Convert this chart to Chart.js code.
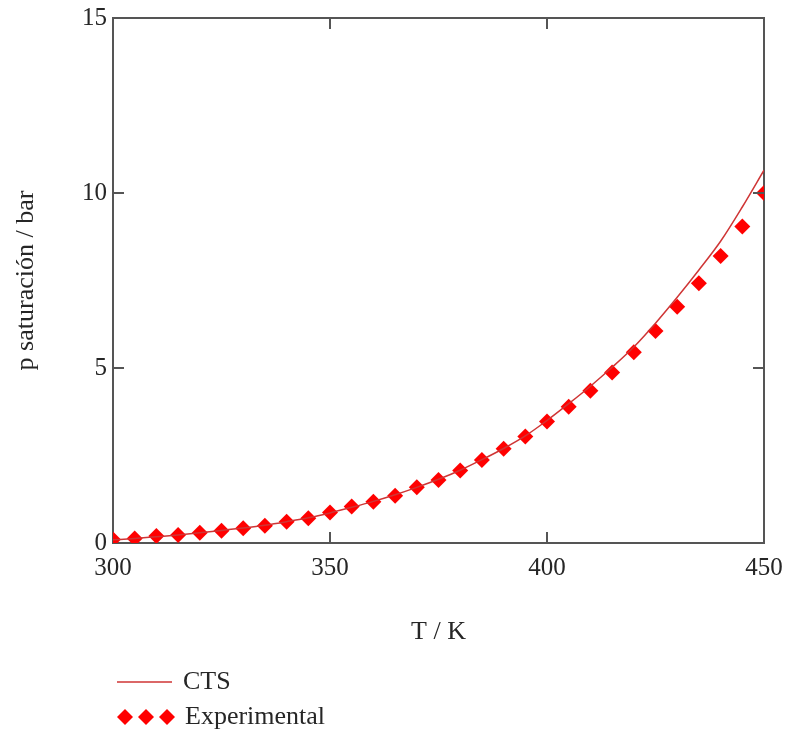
<!DOCTYPE html>
<html>
<head>
<meta charset="utf-8">
<script src="https://cdn.jsdelivr.net/npm/chart.js@4.4.1/dist/chart.umd.min.js"></script>
<style>
  html, body { margin: 0; padding: 0; background: #fff; }
  #wrap { width: 793px; height: 740px; position: relative; }
</style>
</head>
<body>
<div id="wrap"><canvas id="chart"></canvas></div>
<script>
// temperatura (K)
const temps = [300, 305, 310, 315, 320, 325, 330, 335, 340, 345,
               350, 355, 360, 365, 370, 375, 380, 385, 390, 395,
               400, 405, 410, 415, 420, 425, 430, 435, 440, 445, 450];

// puntos experimentales (bar)
const experimental = [0.10, 0.13, 0.20, 0.23, 0.29, 0.35, 0.42, 0.49, 0.61, 0.71,
                      0.87, 1.04, 1.18, 1.35, 1.59, 1.80, 2.07, 2.37, 2.69, 3.04,
                      3.47, 3.89, 4.35, 4.87, 5.45, 6.06, 6.75, 7.42, 8.20, 9.04, 10.0];

// modelo CTS (bar)
const cts = [0.09, 0.13, 0.18, 0.23, 0.29, 0.36, 0.43, 0.51, 0.61, 0.72,
             0.86, 1.02, 1.19, 1.38, 1.59, 1.82, 2.08, 2.38, 2.70, 3.06,
             3.50, 3.98, 4.48, 5.02, 5.60, 6.28, 7.02, 7.80, 8.62, 9.60, 10.65];

const xTicks = [300, 350, 400, 450];
const yTicks = [0, 5, 10, 15];

const serif = "'Liberation Serif', 'DejaVu Serif', serif";
const textColor = '#262626';
const axisColor = '#555';
const lineColor = '#cf3535';
const markerColor = '#ff0000';

const xy = (xs, ys) => xs.map((x, i) => ({ x: x, y: ys[i] }));

// ticks hacia dentro en los cuatro lados
const innerTicks = {
  id: 'innerTicks',
  afterDraw(chart) {
    const ctx = chart.ctx;
    const a = chart.chartArea;
    const xs = chart.scales.x, ys = chart.scales.y;
    const len = 11;
    ctx.save();
    ctx.strokeStyle = axisColor;
    ctx.lineWidth = 2;
    xTicks.slice(1, -1).forEach(v => {
      const px = xs.getPixelForValue(v);
      ctx.beginPath();
      ctx.moveTo(px, a.bottom); ctx.lineTo(px, a.bottom - len);
      ctx.moveTo(px, a.top); ctx.lineTo(px, a.top + len);
      ctx.stroke();
    });
    yTicks.slice(1, -1).forEach(v => {
      const py = ys.getPixelForValue(v);
      ctx.beginPath();
      ctx.moveTo(a.left, py); ctx.lineTo(a.left + len, py);
      ctx.moveTo(a.right, py); ctx.lineTo(a.right - len, py);
      ctx.stroke();
    });
    ctx.restore();
  }
};

// leyenda abajo a la izquierda
const bottomLegend = {
  id: 'bottomLegend',
  afterDraw(chart) {
    const ctx = chart.ctx;
    ctx.save();
    ctx.font = '26px ' + serif;
    ctx.fillStyle = textColor;
    ctx.textBaseline = 'middle';
    ctx.textAlign = 'left';

    ctx.strokeStyle = lineColor;
    ctx.lineWidth = 1.5;
    ctx.beginPath();
    ctx.moveTo(117, 682); ctx.lineTo(172, 682);
    ctx.stroke();
    ctx.fillText('CTS', 183, 682);

    ctx.fillStyle = markerColor;
    [125, 146, 167].forEach(cx => {
      const r = 8, cy = 717;
      ctx.beginPath();
      ctx.moveTo(cx, cy - r); ctx.lineTo(cx + r, cy);
      ctx.lineTo(cx, cy + r); ctx.lineTo(cx - r, cy);
      ctx.closePath();
      ctx.fill();
    });
    ctx.fillStyle = textColor;
    ctx.fillText('Experimental', 185, 717);
    ctx.restore();
  }
};

new Chart(document.getElementById('chart'), {
  type: 'scatter',
  data: {
    datasets: [{
      label: 'CTS',
      data: xy(temps, cts),
      showLine: true,
      borderColor: lineColor,
      borderWidth: 1.5,
      pointRadius: 0,
      cubicInterpolationMode: 'monotone',
      clip: 0,
      order: 0
    }, {
      label: 'Experimental',
      data: xy(temps, experimental),
      showLine: false,
      pointStyle: 'rectRot',
      pointRadius: 8,
      pointBackgroundColor: markerColor,
      pointBorderColor: markerColor,
      pointBorderWidth: 0,
      clip: 0,
      order: 1
    }]
  },
  options: {
    responsive: true,
    maintainAspectRatio: false,
    animation: false,
    layout: { padding: { top: 18, right: 29, left: 0, bottom: 92 } },
    plugins: {
      legend: { display: false },
      tooltip: { enabled: false }
    },
    scales: {
      x: {
        type: 'linear',
        min: 300, max: 450,
        afterBuildTicks: s => { s.ticks = xTicks.map(v => ({ value: v })); },
        grid: { display: false, drawTicks: false },
        border: { display: true, color: axisColor, width: 2 },
        ticks: { padding: 10, color: textColor, font: { family: serif, size: 25 } },
        title: {
          display: true, text: 'T / K', color: textColor,
          font: { family: serif, size: 26 }, padding: { top: 0, bottom: 0 }
        },
        afterFit: s => { s.height = 105; }
      },
      x2: {
        type: 'linear', position: 'top',
        min: 300, max: 450,
        grid: { display: false, drawTicks: false },
        border: { display: true, color: axisColor, width: 2 },
        ticks: { display: false },
        afterFit: s => { s.height = 0; }
      },
      y: {
        type: 'linear',
        min: 0, max: 15,
        afterBuildTicks: s => { s.ticks = yTicks.map(v => ({ value: v })); },
        grid: { display: false, drawTicks: false },
        border: { display: true, color: axisColor, width: 2 },
        ticks: { padding: 6, color: textColor, font: { family: serif, size: 25, lineHeight: 0.8 } },
        title: {
          display: true, text: 'p saturación / bar', color: textColor,
          font: { family: serif, size: 26 }, padding: { top: 11, bottom: 0 }
        },
        afterFit: s => { s.width = 113; }
      },
      y2: {
        type: 'linear', position: 'right',
        min: 0, max: 15,
        grid: { display: false, drawTicks: false },
        border: { display: true, color: axisColor, width: 2 },
        ticks: { display: false },
        afterFit: s => { s.width = 0; }
      }
    }
  },
  plugins: [innerTicks, bottomLegend]
});
</script>
</body>
</html>
